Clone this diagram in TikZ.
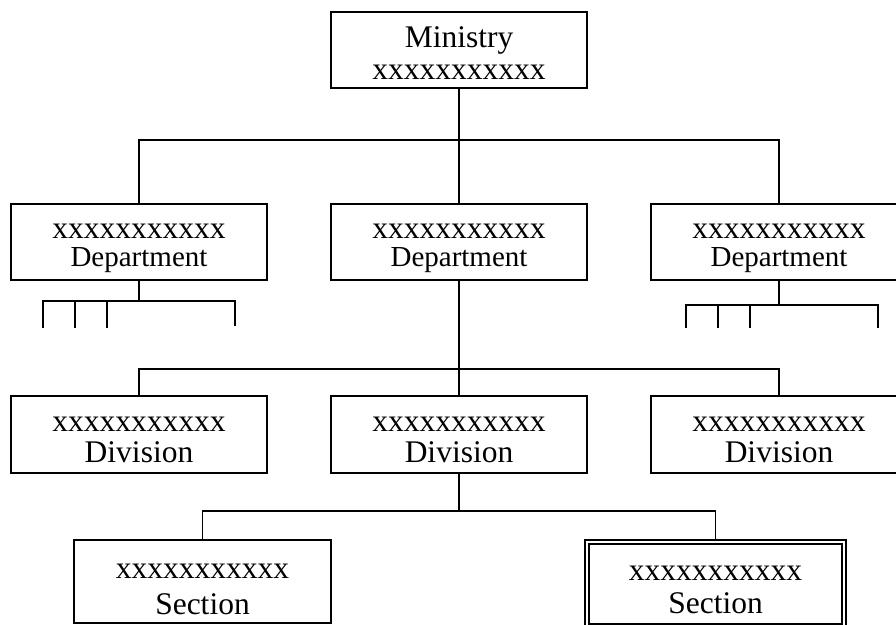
\documentclass[tikz,border=0pt]{standalone}
\usepackage{fontspec}
\setmainfont{Liberation Serif}
\begin{document}
\begin{tikzpicture}[x=1pt,y=-1pt,
  box/.style={draw, line width=1.9pt, minimum width=256pt, minimum height=76pt, inner sep=0pt, anchor=center},
  lbl/.style={anchor=base, inner sep=0pt, font=\fontsize{31.5}{32}\selectfont},
  lblsmall/.style={anchor=base, inner sep=0pt, font=\fontsize{29}{30}\selectfont},
  conn/.style={line width=1.9pt}]
\useasboundingbox (0,0) rectangle (896,624);
\clip (0,0) rectangle (896,624);
% boxes
\node[box] (min) at (459,50) {};
\node[box] (d1) at (139,242) {};
\node[box] (d2) at (459,242) {};
\node[box] (d3) at (779,242) {};
\node[box, minimum height=77pt] (v1) at (139,434.5) {};
\node[box, minimum height=77pt] (v2) at (459,434.5) {};
\node[box, minimum height=77pt] (v3) at (779,434.5) {};
\node[box, minimum width=257pt, minimum height=83pt] (s1) at (202.5,581.5) {};
\node[box, line width=1.8pt, double, double distance=2.6pt, minimum width=257pt, minimum height=84pt] (s2) at (715.5,584) {};
% texts
\node[lbl] (minA) at (459,47) {Ministry};
\node[lbl] (minB) at (459,79) {xxxxxxxxxxx};
\node[lbl] (d1A) at (139,238) {xxxxxxxxxxx};
\node[lblsmall] (d1B) at (139,266) {Department};
\node[lbl] (d2A) at (459,238) {xxxxxxxxxxx};
\node[lblsmall] (d2B) at (459,266) {Department};
\node[lbl] (d3A) at (779,238) {xxxxxxxxxxx};
\node[lblsmall] (d3B) at (779,266) {Department};
\node[lbl] (v1A) at (139,431) {xxxxxxxxxxx};
\node[lbl] (v1B) at (139,462) {Division};
\node[lbl] (v2A) at (459,431) {xxxxxxxxxxx};
\node[lbl] (v2B) at (459,462) {Division};
\node[lbl] (v3A) at (779,431) {xxxxxxxxxxx};
\node[lbl] (v3B) at (779,462) {Division};
\node[lbl] (s1A) at (202.5,578) {xxxxxxxxxxx};
\node[lbl] (s1B) at (202.5,614) {Section};
\node[lbl] (s2A) at (715.5,580) {xxxxxxxxxxx};
\node[lbl] (s2B) at (715.5,613) {Section};
% connectors
\coordinate (j1) at (459,140);
\draw[conn] (min.south) -- (d2.north);
\draw[conn] (d1.north) |- (j1) -| (d3.north);
\coordinate (j2) at (459,369);
\draw[conn] (d2.south) -- (v2.north);
\draw[conn] (v1.north) |- (j2) -| (v3.north);
\coordinate (j3) at (459,511);
\draw[conn] (v2.south) -- (j3);
\draw[conn] (s1.north) |- (j3) -| (s2.north);
% left department stubs
\coordinate (c1) at (139,301);
\coordinate (l1) at (43,328);
\coordinate (l2) at (75,328);
\coordinate (l3) at (107,328);
\coordinate (l4) at (235,326);
\draw[conn] (d1.south) -- (c1);
\draw[conn] (l1) |- (c1) -| (l4);
\draw[conn] (l2) -- (l2 |- c1);
\draw[conn] (l3) -- (l3 |- c1);
% right department stubs
\coordinate (c3) at (779,305);
\coordinate (r1) at (686,328);
\coordinate (r2) at (718,328);
\coordinate (r3) at (750,328);
\coordinate (r4) at (878,328);
\draw[conn] (d3.south) -- (c3);
\draw[conn] (r1) |- (c3) -| (r4);
\draw[conn] (r2) -- (r2 |- c3);
\draw[conn] (r3) -- (r3 |- c3);
\end{tikzpicture}
\end{document}
